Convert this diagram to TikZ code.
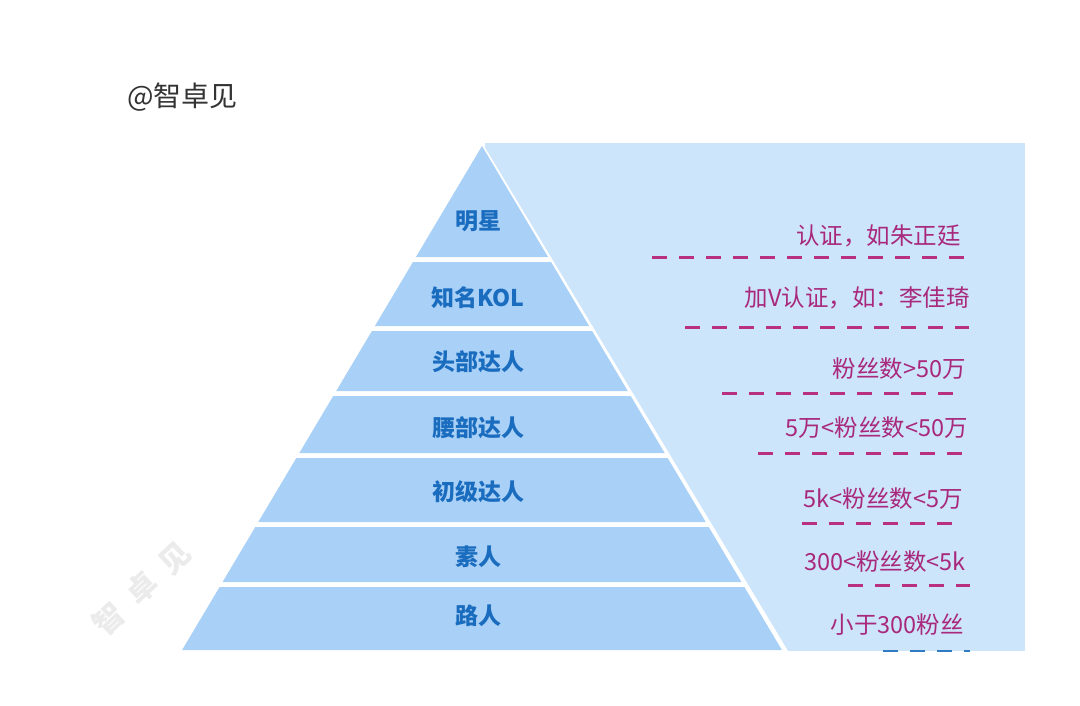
\documentclass[tikz,border=0pt]{standalone}
\usepackage{fontspec}
\newfontfamily\cjk{Noto Sans CJK SC}
\definecolor{bandfill}{HTML}{A9D0F6}
\definecolor{backfill}{HTML}{CDE5FB}
\definecolor{labelblue}{HTML}{1A6CBF}
\definecolor{magtext}{HTML}{A8287C}
\definecolor{magdash}{HTML}{B8307F}
\definecolor{bluedash}{HTML}{2F7CC4}
\definecolor{marktext}{HTML}{333333}
\definecolor{wmark}{HTML}{EBEBEB}
\newcommand\pyrband[5]{%
  \fill[bandfill] ({482-0.595*(#2-146)},#2) -- ({482+0.595*(#2-146)},#2) -- ({482+0.595*(#3-146)},#3) -- ({482-0.595*(#3-146)},#3) -- cycle;
  \node[bandlabel] (#1) at (478,#5) {#4};
}
\begin{document}
\begin{tikzpicture}[x=1pt,y=-1pt,
  bandlabel/.style={font=\cjk\bfseries\fontsize{23}{26}\selectfont, text=labelblue, inner sep=0pt},
  desc/.style={font=\cjk\fontsize{23.5}{26}\selectfont, text=magtext, anchor=east, inner sep=0pt},
  wmchar/.style={font=\cjk\bfseries\fontsize{30}{32}\selectfont, text=wmark, rotate=43, inner sep=0pt},
  dashline/.style={draw=magdash, line width=3pt, dash pattern=on 15pt off 12pt},
  bluedashline/.style={draw=bluedash, line width=3pt, dash pattern=on 15pt off 12pt}]
\useasboundingbox (0,0) rectangle (1080,706);
\fill[white] (0,0) rectangle (1080,706);
% watermark
\node[wmchar] (wm1) at (109,619) {智};
\node[wmchar] (wm2) at (142,588) {卓};
\node[wmchar] (wm3) at (175,558) {见};
% title
\node[font=\cjk\fontsize{28}{30}\selectfont, text=marktext, anchor=west, inner sep=0pt] (title) at (127,97) {@智卓见};
% background panel
\fill[backfill] (485,143) rectangle (1025,651);
\fill[white] (481,141) -- (788,651) -- (470,651) -- cycle;
% pyramid bands
\pyrband{b1}{146}{257}{明星}{221}
\pyrband{b2}{262}{326}{知名KOL}{298}
\pyrband{b3}{331}{391}{头部达人}{362}
\pyrband{b4}{396}{453}{腰部达人}{428}
\pyrband{b5}{458}{522}{初级达人}{492}
\pyrband{b6}{527}{582}{素人}{557}
\pyrband{b7}{587}{650}{路人}{616}
% descriptions
\node[desc] (d1) at (961,236) {认证，如朱正廷};
\node[desc] (d2) at (970,298) {加V认证，如：李佳琦};
\node[desc] (d3) at (966,369) {粉丝数>50万};
\node[desc] (d4) at (968,428) {5万<粉丝数<50万};
\node[desc] (d5) at (963,499) {5k<粉丝数<5万};
\node[desc] (d6) at (966,562) {300<粉丝数<5k};
\node[desc] (d7) at (964,625) {小于300粉丝};
% dashed separators
\draw[dashline] (652,257) -- (966,257);
\draw[dashline] (685,327) -- (969,327);
\draw[dashline] (722,393) -- (964,393);
\draw[dashline] (758,453) -- (970,453);
\draw[dashline] (802,523) -- (959,523);
\draw[dashline] (848,585) -- (970,585);
\begin{scope}
\clip (485,143) rectangle (1025,651);
\draw[bluedashline] (883,651) -- (970,651);
\end{scope}
\end{tikzpicture}
\end{document}
